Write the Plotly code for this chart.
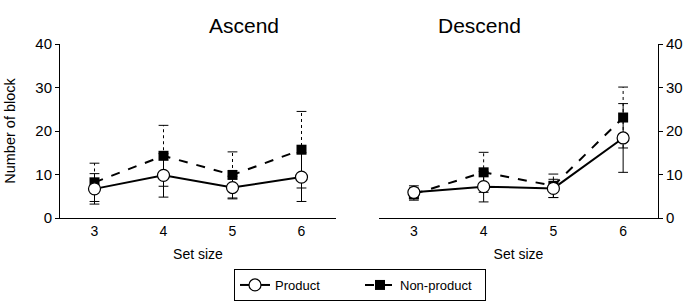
import plotly.graph_objects as go
from plotly.subplots import make_subplots

set_sizes = [3, 4, 5, 6]
tick_vals_y = [0, 10, 20, 30, 40]

asc_product = [6.7, 9.8, 7.0, 9.4]
asc_product_err = [3.5, 5.0, 2.6, 5.6]
asc_nonproduct = [8.2, 14.3, 9.9, 15.7]
asc_nonproduct_err = [4.4, 7.0, 5.3, 8.8]

desc_product = [5.9, 7.2, 6.8, 18.4]
desc_product_err = [1.5, 3.5, 2.1, 7.9]
desc_nonproduct = [5.5, 10.5, 7.4, 23.1]
desc_nonproduct_err = [1.4, 4.6, 2.7, 7.0]

FONT = "Liberation Sans, Arial, sans-serif"

fig = make_subplots(rows=1, cols=2)


def err_segments(xs, ys, es):
    ex, ey = [], []
    for x, y, e in zip(xs, ys, es):
        ex += [x, x, None]
        ey += [y - e, y + e, None]
    return ex, ey


def add_panel(col, prod, prod_e, nonp, nonp_e, show_legend):
    # error bars (behind markers)
    ex, ey = err_segments(set_sizes, nonp, nonp_e)
    fig.add_trace(go.Scatter(x=ex, y=ey, mode="lines+markers",
                             line=dict(color="black", width=1, dash="dot"),
                             marker=dict(symbol="line-ew-open", size=7,
                                         line=dict(color="black", width=1)),
                             showlegend=False, hoverinfo="skip"), row=1, col=col)
    ex, ey = err_segments(set_sizes, prod, prod_e)
    fig.add_trace(go.Scatter(x=ex, y=ey, mode="lines+markers",
                             line=dict(color="black", width=1),
                             marker=dict(symbol="line-ew-open", size=7,
                                         line=dict(color="black", width=1)),
                             showlegend=False, hoverinfo="skip"), row=1, col=col)
    fig.add_trace(go.Scatter(x=set_sizes, y=nonp, mode="lines+markers",
                             name="Non-product",
                             line=dict(color="black", width=2, dash="dash"),
                             marker=dict(symbol="square", size=10, color="black"),
                             showlegend=show_legend, legendrank=2), row=1, col=col)
    fig.add_trace(go.Scatter(x=set_sizes, y=prod, mode="lines+markers",
                             name="Product",
                             line=dict(color="black", width=2),
                             marker=dict(symbol="circle", size=12, color="white",
                                         line=dict(color="black", width=1.2)),
                             showlegend=show_legend, legendrank=1), row=1, col=col)


add_panel(1, asc_product, asc_product_err, asc_nonproduct, asc_nonproduct_err, True)
add_panel(2, desc_product, desc_product_err, desc_nonproduct, desc_nonproduct_err, False)

ydom = [1 - 218 / 303, 1 - 44 / 303]
xaxis_common = dict(range=[2.5, 6.5], tickvals=set_sizes, ticks="", showgrid=False,
                    zeroline=False, showline=True, linecolor="black", linewidth=1,
                    tickfont=dict(size=14, color="black", family=FONT),
                    title=dict(text="Set size", font=dict(size=14, color="black", family=FONT),
                               standoff=11))
yaxis_common = dict(range=[0, 40], tickvals=tick_vals_y, ticks="outside", ticklen=4,
                    tickcolor="black", showgrid=False, zeroline=False, showline=True,
                    linecolor="black", linewidth=1,
                    tickfont=dict(size=15, color="black", family=FONT), domain=ydom)

fig.update_layout(
    width=686, height=303,
    margin=dict(l=0, r=0, t=0, b=0, autoexpand=False),
    plot_bgcolor="white", paper_bgcolor="white",
    font=dict(family=FONT, color="black"),
    xaxis=dict(xaxis_common, domain=[60 / 686, 336 / 686]),
    xaxis2=dict(xaxis_common, domain=[379 / 686, 658 / 686]),
    yaxis=dict(yaxis_common, side="left",
               title=dict(text="Number of block",
                          font=dict(size=14.5, color="black", family=FONT), standoff=16)),
    yaxis2=dict(yaxis_common, side="right", anchor="x2"),
    legend=dict(orientation="h", x=360 / 686, xanchor="center", y=1 - 269 / 303, yanchor="top",
                bordercolor="black", borderwidth=1, font=dict(size=13, color="black", family=FONT),
                traceorder="normal", entrywidth=80),
    annotations=[
        dict(text="Ascend", x=207 / 686, y=1 - 12 / 303, xref="paper", yref="paper",
             showarrow=False, font=dict(size=21, color="black", family=FONT)),
        dict(text="Descend", x=523 / 686, y=1 - 12 / 303, xref="paper", yref="paper",
             showarrow=False, font=dict(size=21, color="black", family=FONT)),
    ],
)

fig.write_html("out.html", config={"displayModeBar": False},
               post_script="document.body.style.margin='0px';")
